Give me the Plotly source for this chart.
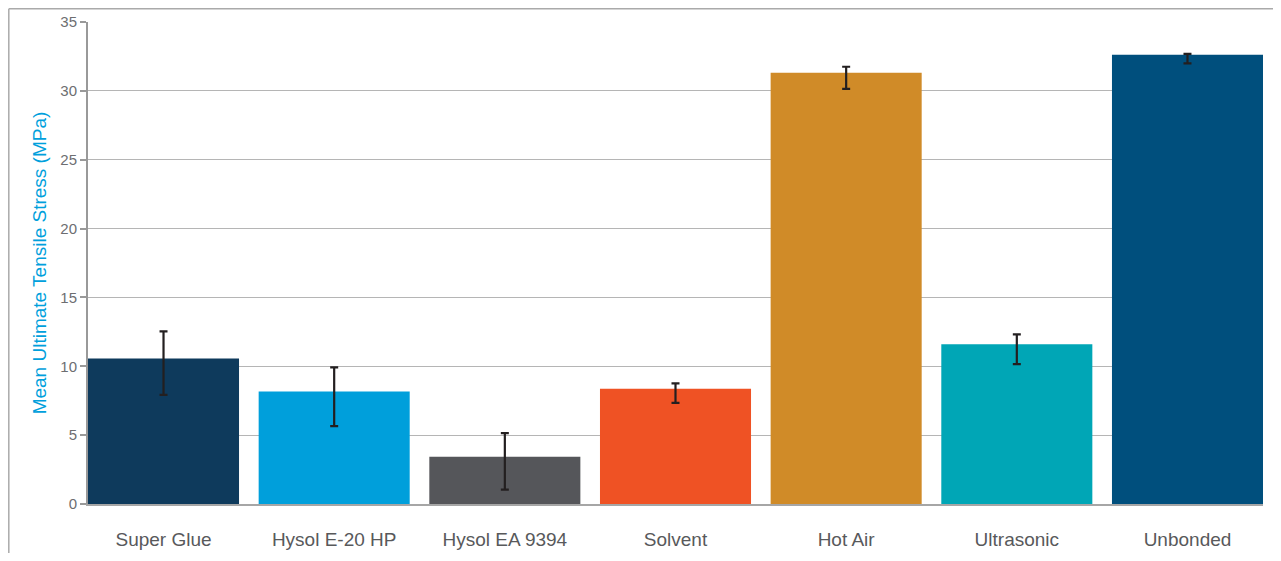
import plotly.graph_objects as go

categories = ["Super Glue", "Hysol E-20 HP", "Hysol EA 9394", "Solvent", "Hot Air", "Ultrasonic", "Unbonded"]
mean_stress = [10.57, 8.17, 3.44, 8.37, 31.32, 11.6, 32.63]
err_plus = [1.97, 1.75, 1.70, 0.39, 0.43, 0.72, 0.05]
err_minus = [2.64, 2.52, 2.40, 1.02, 1.17, 1.44, 0.63]
bar_colors = ["#0e3a5c", "#009fdb", "#55565a", "#ef5224", "#d08b28", "#00a6b6", "#004f7d"]
y_ticks = [0, 5, 10, 15, 20, 25, 30, 35]

# the page body has an 8px margin; figure placed at (8, 8)
OFF = 8
W, H = 1265, 545
L, T = 88 - OFF, 22 - OFF
R = W - (1263 - OFF)
B = H - (504 - OFF)
pw, ph = W - L - R, H - T - B

fig = go.Figure()
fig.add_trace(go.Bar(
    x=categories, y=mean_stress,
    marker=dict(color=bar_colors, line=dict(width=0)),
    error_y=dict(type="data", symmetric=False, array=err_plus, arrayminus=err_minus,
                 color="#231f20", thickness=2.2, width=4),
    showlegend=False,
))

def px2paper_x(px):
    return (px - OFF - L) / pw

def px2paper_y(py):
    return (H - B - (py - OFF)) / ph

frame = "#aaaaaa"
shapes = [
    dict(type="line", xref="paper", yref="paper",
         x0=px2paper_x(8.8), x1=px2paper_x(8.8), y0=px2paper_y(8.8), y1=px2paper_y(600),
         line=dict(color=frame, width=1.5)),
    dict(type="line", xref="paper", yref="paper",
         x0=px2paper_x(8.8), x1=px2paper_x(1300), y0=px2paper_y(8.8), y1=px2paper_y(8.8),
         line=dict(color=frame, width=1.5)),
]

fig.update_layout(
    width=W, height=H,
    margin=dict(l=L, r=R, t=T, b=B, pad=0, autoexpand=False),
    paper_bgcolor="white", plot_bgcolor="white",
    bargap=0.115,
    font=dict(family="Liberation Sans, Arial, sans-serif", color="#58595b"),
    shapes=shapes,
    xaxis=dict(
        range=[-0.4425, 6.4425], automargin=False,
        showline=True, linecolor="#a6a6a6", linewidth=2,
        showgrid=False, ticks="", zeroline=False,
        tickfont=dict(size=19, color="#58595b"),
        ticklabelstandoff=17,
    ),
    yaxis=dict(
        range=[0, 35], tickvals=y_ticks, automargin=False,
        showline=True, linecolor="#999999", linewidth=2,
        showgrid=True, gridcolor="#b5b5b5", gridwidth=1.3,
        zeroline=False,
        ticks="outside", ticklen=6, tickcolor="#999999", tickwidth=1.5,
        tickfont=dict(size=15, color="#6d6e71"),
        title=dict(text="Mean Ultimate Tensile Stress (MPa)", standoff=9,
                   font=dict(size=19, color="#00a0dc")),
    ),
)

fig.write_html("out.html")
